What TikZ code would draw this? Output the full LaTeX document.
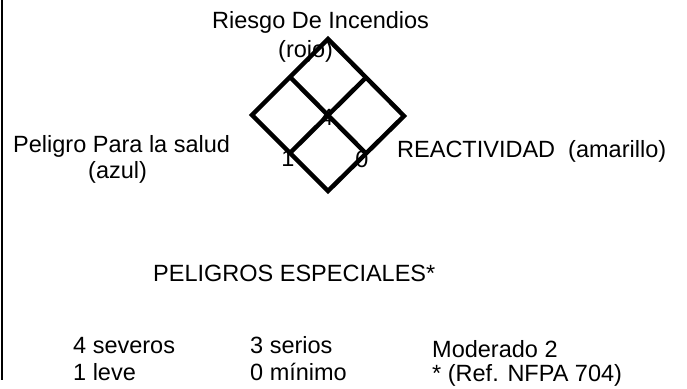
\documentclass[tikz,border=0pt]{standalone}
\usepackage{fontspec}
\setmainfont{Liberation Sans}
\usetikzlibrary{calc}
\begin{document}
\begin{tikzpicture}[x=1pt,y=1pt,
  lbl/.style={inner sep=0pt,anchor=base west,font=\fontsize{23.5}{27}\selectfont},
  digit/.style={inner sep=0pt,anchor=center,font=\fontsize{23.5}{27}\selectfont},
  grid/.style={line width=4.5pt,line join=miter,line cap=butt}]
\useasboundingbox[fill=white] (0,0) rectangle (687,-388);
% left border
\draw[line width=2pt] (2,0) -- (2,-380);
% diamond corners
\coordinate (T) at (328,-39);
\coordinate (L) at (252,-115);
\coordinate (R) at (404,-116);
\coordinate (B) at (328,-191);
% digits under the lines
\node[digit] (d4) at (327,-117) {4};
\node[digit] (d1) at (288,-158) {1};
\node[digit] (d0) at (362,-159) {0};
% diamond
\draw[grid] (T) -- (R) -- (B) -- (L) -- cycle;
\draw[grid] ($(T)!0.5!(L)$) -- ($(R)!0.5!(B)$);
\draw[grid] ($(T)!0.5!(R)$) -- ($(L)!0.5!(B)$);
% labels
\node[lbl] (fire) at (212,-28) {Riesgo De Incendios};
\node[lbl] (rojo) at (278,-57) {(rojo)};
\node[lbl] (salud) at (13,-152) {Peligro Para la salud};
\node[lbl] (azul) at (88,-178) {(azul)};
\node[lbl] (react) at (397,-157) {REACTIVIDAD\ \ (amarillo)};
\node[lbl] (esp) at (153,-281) {PELIGROS ESPECIALES*};
\node[lbl] (sev) at (73,-353) {4 severos};
\node[lbl] (lev) at (73,-380) {1 leve};
\node[lbl] (ser) at (250,-353) {3 serios};
\node[lbl] (min) at (250,-380) {0 mínimo};
\node[lbl] (mod) at (432,-357) {Moderado 2};
\node[lbl] (ref) at (432,-381) {* (Ref. NFPA 704)};
\end{tikzpicture}
\end{document}
